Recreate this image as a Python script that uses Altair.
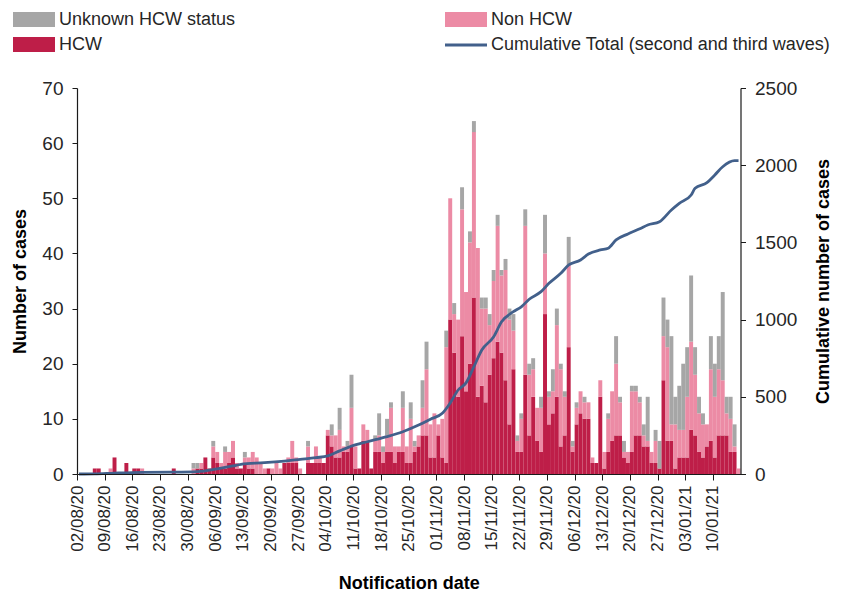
import altair as alt
import pandas as pd

# ---------------- data ----------------
TICK_LABELS = ["02/08/20", "09/08/20", "16/08/20", "23/08/20", "30/08/20", "06/09/20",
               "13/09/20", "20/09/20", "27/09/20", "04/10/20", "11/10/20", "18/10/20",
               "25/10/20", "01/11/20", "08/11/20", "15/11/20", "22/11/20", "29/11/20",
               "06/12/20", "13/12/20", "20/12/20", "27/12/20", "03/01/21", "10/01/21"]

SERIES = ["HCW", "Non HCW", "Unknown HCW status"]

# one value per notification day, starting 02/08/20
HCW = [0, 0, 0, 0, 1, 1, 0, 0, 0, 3,
       0, 0, 2, 0, 1, 1, 0, 0, 0, 0,
       0, 0, 0, 0, 1, 0, 0, 0, 0, 0,
       1, 1, 3, 1, 3, 2, 1, 1, 2, 3,
       1, 1, 2, 1, 1, 0, 0, 0, 1, 0,
       0, 0, 2, 2, 2, 2, 0, 0, 2, 2,
       2, 2, 2, 7, 5, 3, 3, 4, 4, 5,
       1, 1, 6, 6, 1, 4, 4, 2, 4, 4,
       2, 4, 4, 2, 2, 4, 5, 7, 7, 3,
       3, 7, 3, 2, 28, 22, 14, 25, 15, 20,
       32, 14, 16, 13, 18, 21, 24, 22, 17, 9,
       19, 4, 4, 18, 7, 14, 6, 4, 29, 9,
       11, 14, 5, 7, 23, 4, 9, 11, 10, 10,
       2, 2, 14, 1, 4, 6, 7, 7, 3, 2,
       4, 7, 7, 5, 5, 2, 2, 1, 17, 6,
       6, 1, 3, 3, 3, 8, 7, 4, 3, 5,
       6, 3, 7, 7, 7, 4, 4, 0]

NON_HCW = [0, 0, 0, 0, 0, 0, 0, 0, 1, 0,
           0, 0, 0, 0, 0, 0, 1, 0, 0, 0,
           0, 0, 0, 0, 0, 0, 0, 0, 0, 1,
           0, 1, 0, 0, 2, 2, 1, 3, 2, 3,
           1, 0, 1, 2, 3, 3, 2, 1, 0, 1,
           2, 1, 0, 1, 4, 1, 1, 0, 3, 0,
           3, 1, 0, 1, 2, 4, 5, 1, 1, 7,
           4, 0, 3, 2, 0, 2, 3, 2, 3, 8,
           3, 1, 8, 3, 8, 1, 2, 5, 12, 6,
           8, 2, 7, 21, 22, 7, 14, 23, 18, 22,
           30, 27, 14, 17, 9, 14, 21, 14, 20, 19,
           7, 2, 6, 27, 11, 5, 6, 8, 11, 5,
           4, 13, 14, 7, 15, 1, 3, 4, 3, 3,
           1, 0, 3, 3, 6, 9, 13, 6, 1, 2,
           11, 8, 6, 2, 1, 2, 4, 0, 8, 17,
           3, 8, 5, 5, 11, 16, 11, 7, 6, 4,
           13, 11, 12, 10, 4, 6, 1, 1]

UNKNOWN = [0, 0, 0, 0, 0, 0, 0, 0, 0, 0,
           0, 0, 0, 0, 0, 0, 0, 0, 0, 0,
           0, 0, 0, 0, 0, 0, 0, 0, 0, 1,
           1, 0, 0, 0, 1, 0, 0, 1, 0, 0,
           0, 0, 1, 0, 0, 0, 0, 0, 0, 0,
           0, 0, 0, 0, 0, 0, 0, 0, 1, 0,
           0, 0, 0, 0, 2, 0, 4, 0, 1, 6,
           0, 0, 0, 0, 0, 1, 4, 1, 3, 1,
           0, 0, 3, 0, 3, 1, 0, 5, 5, 0,
           0, 0, 0, 3, 0, 2, 0, 4, 0, 2,
           2, 0, 2, 2, 2, 2, 2, 1, 2, 2,
           3, 1, 1, 3, 2, 2, 0, 2, 7, 1,
           4, 3, 1, 1, 5, 1, 1, 0, 1, 0,
           0, 0, 0, 0, 1, 0, 5, 1, 2, 0,
           1, 1, 1, 2, 8, 0, 2, 5, 7, 5,
           16, 5, 8, 12, 9, 12, 5, 3, 2, 0,
           6, 6, 6, 16, 3, 4, 4, 0]

# cumulative line, read at these day indices (days since 02/08/20)
CUM_DAY = [0, 4, 9, 16, 24, 30, 35, 39, 41, 47, 52, 56, 60, 63, 66, 69,
           73, 78, 82, 86, 89, 92, 94, 96, 98, 100, 102, 105, 107, 110, 112, 114,
           117, 119, 122, 124, 127, 129, 132, 134, 136, 139, 142, 144, 147, 150,
           152, 155, 156, 159, 161, 163, 166, 167]
CUM_TOTAL = [0, 1, 6, 11, 12, 15, 33, 52, 63, 73, 84, 95, 106, 117, 150, 181,
             209, 242, 274, 317, 355, 393, 460, 544, 590, 695, 803, 889, 986, 1051, 1083, 1132,
             1181, 1235, 1300, 1354, 1386, 1425, 1451, 1462, 1516, 1555, 1588, 1613, 1634, 1710,
             1753, 1807, 1850, 1887, 1937, 1990, 2029, 2029]

LEFT_TICKS = [0, 10, 20, 30, 40, 50, 60, 70]
RIGHT_TICKS = [0, 500, 1000, 1500, 2000, 2500]

# ---------------- styling ----------------
FONT = "Liberation Sans, Arial, sans-serif"
C_HCW = "#BE1E48"
C_NON = "#EC8BA5"
C_UNK = "#A6A6A6"
C_LINE = "#42608B"
TXT = "#262626"

rows = []
for i in range(len(HCW)):
    rows.append({"day": i, "series": SERIES[0], "ord": 0, "cases": HCW[i]})
    rows.append({"day": i, "series": SERIES[1], "ord": 1, "cases": NON_HCW[i]})
    rows.append({"day": i, "series": SERIES[2], "ord": 2, "cases": UNKNOWN[i]})
bars_df = pd.DataFrame(rows)
cum_df = pd.DataFrame({"day": CUM_DAY, "total": CUM_TOTAL})

N_DAYS = len(HCW)
x_scale = alt.Scale(domain=[0, N_DAYS], nice=False, zero=False)
label_expr = "[" + ",".join("'%s'" % t for t in TICK_LABELS) + "][round(datum.value/7)]"

x_axis = alt.Axis(values=[7 * k for k in range(len(TICK_LABELS))], labelExpr=label_expr,
                  labelAngle=-90, labelFontSize=17, labelPadding=5, tickSize=6,
                  title="Notification date", titleFontSize=18, titleFontWeight="bold",
                  titleY=100, titleBaseline="top", zindex=1)

y_left_axis = alt.Axis(values=LEFT_TICKS, labelFontSize=19, tickSize=5, labelPadding=9,
                       title="Number of cases", titleFontSize=18, titleFontWeight="bold",
                       titleAngle=-90, titleBaseline="bottom", titleX=-48, titleY=193,
                       zindex=1)

y_right_axis = alt.Axis(values=RIGHT_TICKS, orient="right", format="d", labelFontSize=19,
                        tickSize=5, labelPadding=9, title="Cumulative number of cases",
                        titleFontSize=18, titleFontWeight="bold", titleAngle=-90,
                        titleBaseline="top", titleX=74, titleY=193, zindex=1)

bars = alt.Chart(bars_df).transform_stack(
    stack="cases", groupby=["day"], as_=["y0", "y1"],
    sort=[alt.SortField("ord", order="ascending")]
).transform_calculate(day1="datum.day + 1").mark_bar().encode(
    x=alt.X("day:Q", scale=x_scale, axis=x_axis),
    x2="day1:Q",
    y=alt.Y("y0:Q", scale=alt.Scale(domain=[0, 70], nice=False), axis=y_left_axis),
    y2="y1:Q",
    color=alt.Color("series:N", scale=alt.Scale(domain=SERIES, range=[C_HCW, C_NON, C_UNK]),
                    legend=None),
)

line = alt.Chart(cum_df).transform_calculate(xc="datum.day + 0.5").mark_line(
    color=C_LINE, strokeWidth=2.8, interpolate="monotone"
).encode(
    x=alt.X("xc:Q", scale=x_scale, axis=x_axis),
    y=alt.Y("total:Q", scale=alt.Scale(domain=[0, 2500], nice=False), axis=y_right_axis),
)

one = pd.DataFrame({"k": [0]})


def swatch(x0, y0, color):
    return alt.Chart(one).mark_rect(color=color).encode(
        x=alt.value(x0), x2=alt.value(x0 + 42), y=alt.value(y0), y2=alt.value(y0 + 15))


def label(x0, y0, text):
    return alt.Chart(one).mark_text(text=text, align="left", baseline="middle", font=FONT,
                                    fontSize=18, color=TXT).encode(
        x=alt.value(x0), y=alt.value(y0))


legend_line = alt.Chart(one).mark_rule(color=C_LINE, strokeWidth=3).encode(
    x=alt.value(368), x2=alt.value(410), y=alt.value(-43))

legend = [
    swatch(-64, -76, C_UNK), label(-18, -68, "Unknown HCW status"),
    swatch(-64, -51, C_HCW), label(-18, -43, "HCW"),
    swatch(368, -76, C_NON), label(414, -68, "Non HCW"),
    legend_line, label(414, -43, "Cumulative Total (second and third waves)"),
]

chart = alt.layer(bars, line, *legend).resolve_scale(y="independent").properties(
    width=663.5, height=386,
    padding={"left": 69, "top": 80, "right": 100, "bottom": 121},
    autosize=alt.AutoSizeParams(type="none"),
).configure_view(stroke=None).configure_axis(
    grid=False, domainColor="#1a1a1a", tickColor="#1a1a1a", labelColor=TXT,
    titleColor="#000000", labelFont=FONT, titleFont=FONT, domainWidth=1.2,
)

chart.save("out.html", embed_options={"renderer": "svg", "actions": False})
